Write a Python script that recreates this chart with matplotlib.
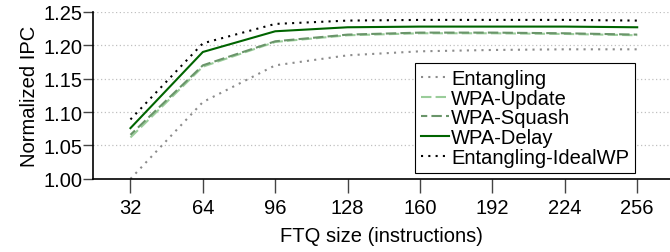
import matplotlib
matplotlib.use('Agg')
import matplotlib.pyplot as plt

ftq = [32, 64, 96, 128, 160, 192, 224, 256]
entangling = [1.000, 1.115, 1.170, 1.185, 1.191, 1.193, 1.194, 1.194]
wpa_update = [1.062, 1.168, 1.205, 1.215, 1.218, 1.218, 1.217, 1.215]
wpa_squash = [1.066, 1.170, 1.206, 1.216, 1.219, 1.219, 1.218, 1.216]
wpa_delay = [1.076, 1.190, 1.221, 1.227, 1.228, 1.228, 1.228, 1.227]
ideal_wp = [1.089, 1.203, 1.232, 1.237, 1.238, 1.238, 1.238, 1.237]

plt.rcParams['font.family'] = ['Liberation Sans', 'DejaVu Sans']
plt.rcParams['font.size'] = 14.5

fig = plt.figure(figsize=(6.7, 2.53), dpi=100)
ax = fig.add_axes([0.139, 0.289, 0.861, 0.66])

lw = 1.5
ax.plot(ftq, entangling, color='#8c8c8c', lw=lw, linestyle=(0, (1, 2.5)), label='Entangling')
ax.plot(ftq, wpa_update, color='#9acd9a', lw=lw, linestyle=(0, (5, 2)), label='WPA-Update')
ax.plot(ftq, wpa_squash, color='#6a956a', lw=lw, linestyle=(2, (5, 2)), label='WPA-Squash')
ax.plot(ftq, wpa_delay, color='#006400', lw=lw, linestyle='-', label='WPA-Delay')
ax.plot(ftq, ideal_wp, color='black', lw=lw, linestyle=(0, (1, 2.5)), label='Entangling-IdealWP')

ax.set_xlim(15.5, 270.5)
ax.set_ylim(1.0, 1.25)
ax.set_xticks(ftq)
ax.set_yticks([1.00, 1.05, 1.10, 1.15, 1.20, 1.25])
ax.set_yticklabels(['1.00', '1.05', '1.10', '1.15', '1.20', '1.25'])
ax.tick_params(axis='x', direction='out', length=10, width=1, color='#444444', pad=4)
ax.tick_params(axis='y', direction='out', length=7, width=1, color='#444444', pad=1)

ax.yaxis.grid(True, color='#c0c0c0', linestyle=(0, (1, 2)), lw=0.9)
ax.set_axisbelow(True)
for s in ['top', 'right']:
    ax.spines[s].set_visible(False)
for s in ['left', 'bottom']:
    ax.spines[s].set_linewidth(1.2)

ax.set_xlabel('FTQ size (instructions)', labelpad=6)
ax.set_ylabel('Normalized IPC', labelpad=3)

leg = ax.legend(loc='lower right', bbox_to_anchor=(0.94, 0.035), borderaxespad=0,
                handlelength=1.4, handletextpad=0.1, labelspacing=0.04,
                borderpad=0.3, fancybox=False, framealpha=1, edgecolor='black')
leg.get_frame().set_linewidth(0.8)

fig.savefig('out.png', dpi=100)
